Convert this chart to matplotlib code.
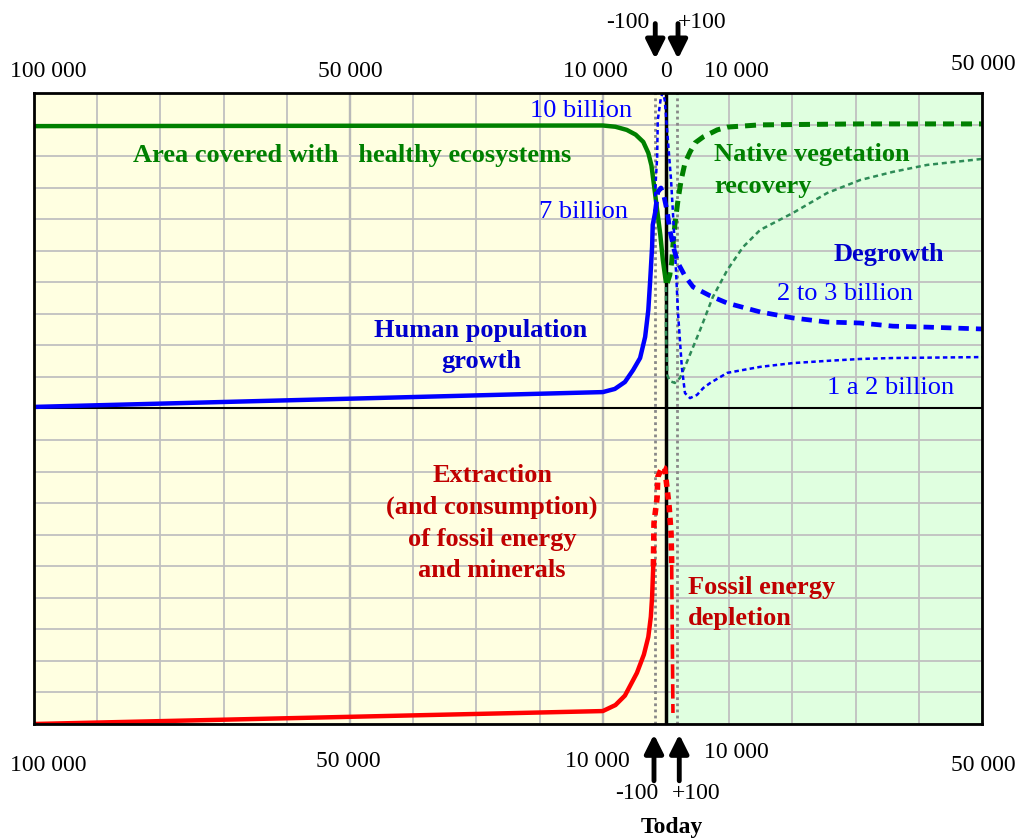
import matplotlib
matplotlib.use("Agg")
import matplotlib.pyplot as plt
import numpy as np

plt.rcParams['font.family'] = ['Liberation Serif', 'DejaVu Serif']

# x in grid cells: 0 = 100 000 years ago, 5 = 50 000, 9 = 10 000, 10 = today,
# 11 = +10 000, 15 = +50 000.  y in grid cells (0..20), 10 = middle line.
eco_x = [0, 9.0, 9.2, 9.38, 9.52, 9.64, 9.72, 9.77, 9.81, 9.86, 9.91, 9.95, 10.0]
eco_y = [18.95, 18.97, 18.93, 18.83, 18.68, 18.45, 18.1, 17.7, 17.08, 16.29, 15.5, 14.71, 13.98]

veg_x = [10.02, 10.06, 10.09, 10.11, 10.14, 10.19, 10.24, 10.30, 10.38, 10.46, 10.59,
         10.81, 10.97, 11.49, 13.07, 15.0]
veg_y = [13.98, 14.23, 14.64, 15.18, 15.82, 16.61, 17.24, 17.78, 18.13, 18.42, 18.61,
         18.83, 18.92, 18.99, 19.02, 19.02]

veg_slow_x = [10.0, 10.0, 10.02, 10.06, 10.14, 10.22, 10.33, 10.54, 10.74, 10.97, 11.22,
              11.49, 12.01, 12.55, 13.07, 13.59, 14.13, 15.0]
veg_slow_y = [13.85, 12.49, 11.06, 10.87, 10.81, 10.97, 11.47, 12.49, 13.53, 14.39, 15.12,
              15.66, 16.2, 16.83, 17.24, 17.5, 17.72, 17.91]

pop_x = [0, 9.0, 9.19, 9.35, 9.48, 9.59, 9.67, 9.72, 9.75, 9.78, 9.79, 9.83]
pop_y = [10.05, 10.52, 10.62, 10.84, 11.22, 11.6, 12.27, 13.12, 14.07, 15.12, 15.82, 16.23]

degrowth_x = [9.83, 9.87, 9.92, 9.97, 10.02, 10.06, 10.13, 10.19, 10.3, 10.43, 10.7,
              10.97, 11.49, 12.01, 12.55, 13.07, 13.59, 14.13, 15.0]
degrowth_y = [16.23, 16.86, 16.99, 16.7, 16.23, 15.66, 15.02, 14.61, 14.2, 13.85, 13.57,
              13.34, 13.06, 12.87, 12.74, 12.71, 12.61, 12.58, 12.52]

peak_x = [9.83, 9.83, 9.86, 9.87, 9.92, 9.95, 9.98, 10.03, 10.08, 10.11, 10.14, 10.19,
          10.25, 10.3, 10.38, 10.49, 10.59, 10.7, 10.97, 11.49, 12.01, 12.55, 13.07,
          13.59, 15.0]
peak_y = [16.23, 16.93, 17.97, 19.14, 19.87, 20.0, 19.78, 18.51, 17.24, 16.2, 15.12, 13.03,
          11.32, 10.49, 10.33, 10.43, 10.65, 10.81, 11.13, 11.32, 11.44, 11.51, 11.57,
          11.6, 11.63]

fossil_x = [0, 9.0, 9.2, 9.35, 9.54, 9.65, 9.72, 9.76, 9.78, 9.8]
fossil_y = [0, 0.41, 0.6, 0.9, 1.62, 2.2, 2.76, 3.4, 4.03, 5.1]

fossil_peak_x = [9.8, 9.81, 9.86, 9.87, 9.94, 9.98, 10.02, 10.05, 10.08, 10.09]
fossil_peak_y = [5.0, 6.37, 7.19, 7.83, 8.15, 8.11, 7.42, 6.88, 6.05, 5.1]

depletion_x = [10.09, 10.11]
depletion_y = [5.04, 0.35]

fig = plt.figure(figsize=(10.2, 8.38), dpi=100)
ax = fig.add_axes([34 / 1020, 114 / 838, 948 / 1020, 631 / 838])
ax.set_xlim(0, 15)
ax.set_ylim(0, 20)

ax.axvspan(0, 10, color='#ffffe1', zorder=0)
ax.axvspan(10, 15, color='#e0ffe0', zorder=0)

ax.set_xticks(range(16))
ax.set_yticks(range(21))
ax.grid(color='#c0c0c0', lw=1.3, zorder=1)
ax.tick_params(length=0, labelbottom=False, labelleft=False)
for s in ax.spines.values():
    s.set_linewidth(2)
    s.set_zorder(6)

for xv in [5, 9]:
    ax.axvline(xv, color='#808080', lw=1.6, zorder=1.5)
for xv in [9.83, 10.18]:
    ax.axvline(xv, color='#888888', lw=2, ls=(0, (1, 1.2)), zorder=1.6)
ax.axvline(10, color='black', lw=2.5, zorder=1.7)
ax.axhline(10, color='black', lw=1.5, zorder=1.7)

green = '#008000'
blue = '#0000ff'
red = '#ff0000'

ax.plot(eco_x, eco_y, color=green, lw=3.2, zorder=3, solid_capstyle='butt')
ax.plot(veg_x, veg_y, color=green, lw=3.6, ls=(0, (2.2, 1.4)), zorder=3)
ax.plot(veg_slow_x, veg_slow_y, color='#2e8b57', lw=1.8, ls=(0, (2, 1.5)), zorder=3)
ax.plot(pop_x, pop_y, color=blue, lw=3.2, zorder=3)
ax.plot(degrowth_x, degrowth_y, color=blue, lw=3.4, ls=(0, (2.2, 1.5)), zorder=3)
ax.plot(peak_x, peak_y, color=blue, lw=1.8, ls=(0, (1.8, 1.3)), zorder=3)
ax.plot(fossil_x, fossil_y, color=red, lw=3.2, zorder=3)
ax.plot(fossil_peak_x, fossil_peak_y, color=red, lw=4, ls=(0, (1.3, 1.0)), zorder=3)
ax.plot(depletion_x, depletion_y, color=red, lw=2.6, ls=(0, (4, 1.5)), zorder=3)

# curve labels
bold = dict(fontsize=19, fontweight='bold', va='center', linespacing=1.48, zorder=4)
ax.text(9.46, 19.43, '10 billion', color=blue, fontsize=19, ha='right', va='center', zorder=4)
ax.text(9.40, 16.23, '7 billion', color=blue, fontsize=19, ha='right', va='center', zorder=4)
ax.text(5.03, 18.03, 'Area covered with   healthy ecosystems', color=green, ha='center', **bold)
ax.text(10.76, 17.55, 'Native vegetation\nrecovery', color=green, ha='left', **bold)
ax.text(13.53, 14.87, 'Degrowth', color='#0000cc', ha='center', **bold)
ax.text(12.83, 13.63, '2 to 3 billion', color=blue, fontsize=19, ha='center', va='center', zorder=4)
ax.text(13.56, 10.65, '1 a 2 billion', color=blue, fontsize=19, ha='center', va='center', zorder=4)
ax.text(7.07, 11.98, 'Human population\ngrowth', color='#0000cc', ha='center', **bold)
ax.text(7.25, 6.37, 'Extraction\n(and consumption)\nof fossil energy\nand minerals',
        color='#c00000', ha='center', **bold)
ax.text(10.35, 3.84, 'Fossil energy\ndepletion', color='#c00000', ha='left', **bold)

# time scale labels (top and bottom)
top_labels = [(0.22, 20.67, '100 000'), (5.0, 20.67, '50 000'), (8.88, 20.67, '10 000'),
              (10.0, 20.67, '0'), (11.12, 20.67, '10 000'), (15.02, 20.9, '50 000')]
bottom_labels = [(0.22, -1.33, '100 000'), (4.97, -1.2, '50 000'), (8.91, -1.2, '10 000'),
                 (11.12, -0.89, '10 000'), (15.02, -1.33, '50 000')]
for xv, yv, lab in top_labels + bottom_labels:
    ax.text(xv, yv, lab, fontsize=17, ha='center', va='center', clip_on=False)

arrow = dict(arrowstyle='-|>', lw=3.5, color='black', mutation_scale=28, shrinkA=0, shrinkB=0)
for xv in [9.83, 10.19]:
    ax.annotate('', xy=(xv, 21.08), xytext=(xv, 22.2), arrowprops=arrow, annotation_clip=False)
for xv in [9.81, 10.21]:
    ax.annotate('', xy=(xv, -0.33), xytext=(xv, -1.8), arrowprops=arrow, annotation_clip=False)

ax.text(9.4, 22.25, '-100', fontsize=17, ha='center', va='center', clip_on=False)
ax.text(10.57, 22.25, '+100', fontsize=17, ha='center', va='center', clip_on=False)
ax.text(9.54, -2.19, '-100', fontsize=17, ha='center', va='center', clip_on=False)
ax.text(10.48, -2.19, '+100', fontsize=17, ha='center', va='center', clip_on=False)
ax.text(10.1, -3.27, 'Today', fontsize=17, fontweight='bold', ha='center', va='center',
        clip_on=False)

fig.savefig('out.png', dpi=100)
